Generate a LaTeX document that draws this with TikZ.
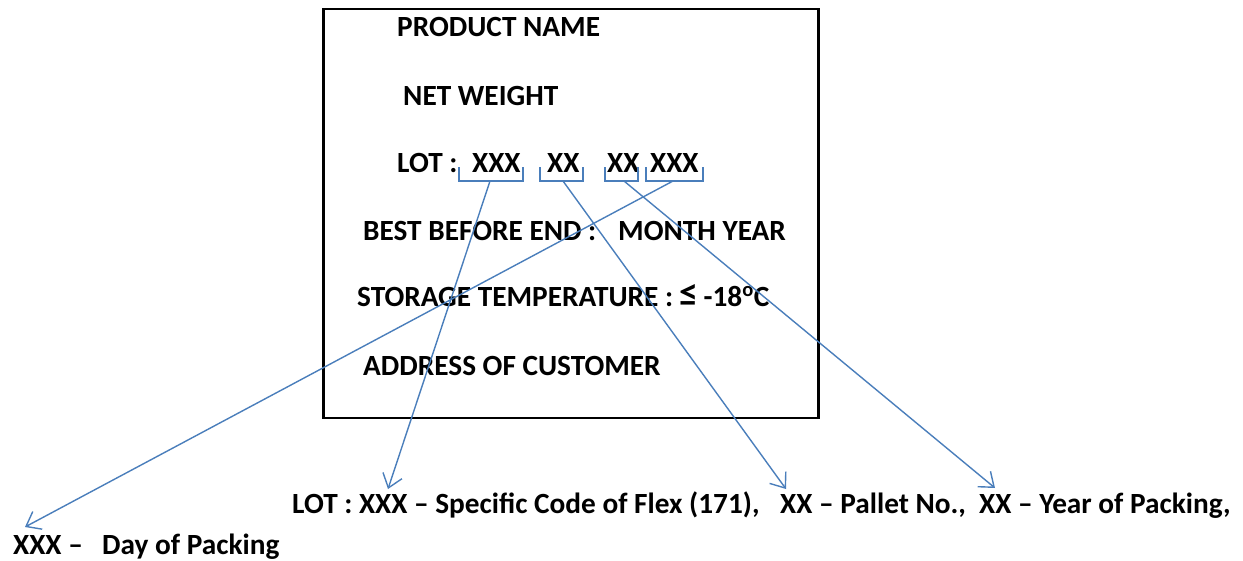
\documentclass[tikz,border=0pt]{standalone}
\usepackage{fontspec}
\setmainfont{Carlito}
\usetikzlibrary{arrows.meta}
\definecolor{conn}{RGB}{74,126,187}
\begin{document}
\begin{tikzpicture}[x=1pt,y=-1pt,
  lbl/.style={anchor=base west,inner sep=0pt,font=\fontsize{29.3}{35}\selectfont\bfseries},
  brk/.style={draw=conn,line width=1.4pt},
  conarrow/.style={draw=conn,line width=1.4pt,-{Straight Barb[length=13pt,width=20pt,line width=1.4pt]}}]
\useasboundingbox (0,0) rectangle (1243,560);
\node[draw,line width=2.6pt,minimum width=495pt,minimum height=409pt,anchor=north west,inner sep=0pt] (box) at (322,7.5) {};
\node[lbl] (pn) at (397,36) {PRODUCT NAME};
\node[lbl] (nw) at (403,105) {NET WEIGHT};
\node[lbl] (lot) at (397,172) {LOT :};
\node[lbl] (x1) at (472,172) {XXX};
\node[lbl] (x2) at (547,172) {XX};
\node[lbl] (x3) at (607,172) {XX};
\node[lbl] (x4) at (650,172) {XXX};
\node[lbl] (bb) at (363,240) {BEST BEFORE END :};
\node[lbl] (my) at (618,240) {MONTH YEAR};
\node[lbl] (st) at (357,306) {STORAGE TEMPERATURE : {\fontsize{38}{35}\selectfont ≤}\,-18\textsuperscript{o}C};
\node[lbl] (ad) at (363,375) {ADDRESS OF CUSTOMER};
\node[lbl] (l1) at (292,513) {LOT : XXX – Specific Code of Flex (171),};
\node[lbl] (l2) at (780,513) {XX – Pallet No.,};
\node[lbl] (l3) at (979,513) {XX – Year of Packing,};
\node[lbl] (l4) at (13,554) {XXX –};
\node[lbl] (l5) at (102,554) {Day of Packing};
% brackets
\draw[brk] (459,167) -- (459,181) -- (523,181) -- (523,167);
\draw[brk] (540,167) -- (540,181) -- (583,181) -- (583,167);
\draw[brk] (605,167) -- (605,181) -- (638,181) -- (638,167);
\draw[brk] (646,167) -- (646,181) -- (703,181) -- (703,167);
\coordinate (b1) at (490,181);
\coordinate (b2) at (563,181);
\coordinate (b3) at (624,181);
\coordinate (b4) at (673,181);
\coordinate (t1) at (388,489);
\coordinate (t2) at (786,489);
\coordinate (t3) at (995,488);
\coordinate (t4) at (25,527);
\draw[conarrow] (b1) -- (t1);
\draw[conarrow] (b2) -- (t2);
\draw[conarrow] (b3) -- (t3);
\draw[conarrow] (b4) -- (t4);
\end{tikzpicture}
\end{document}
